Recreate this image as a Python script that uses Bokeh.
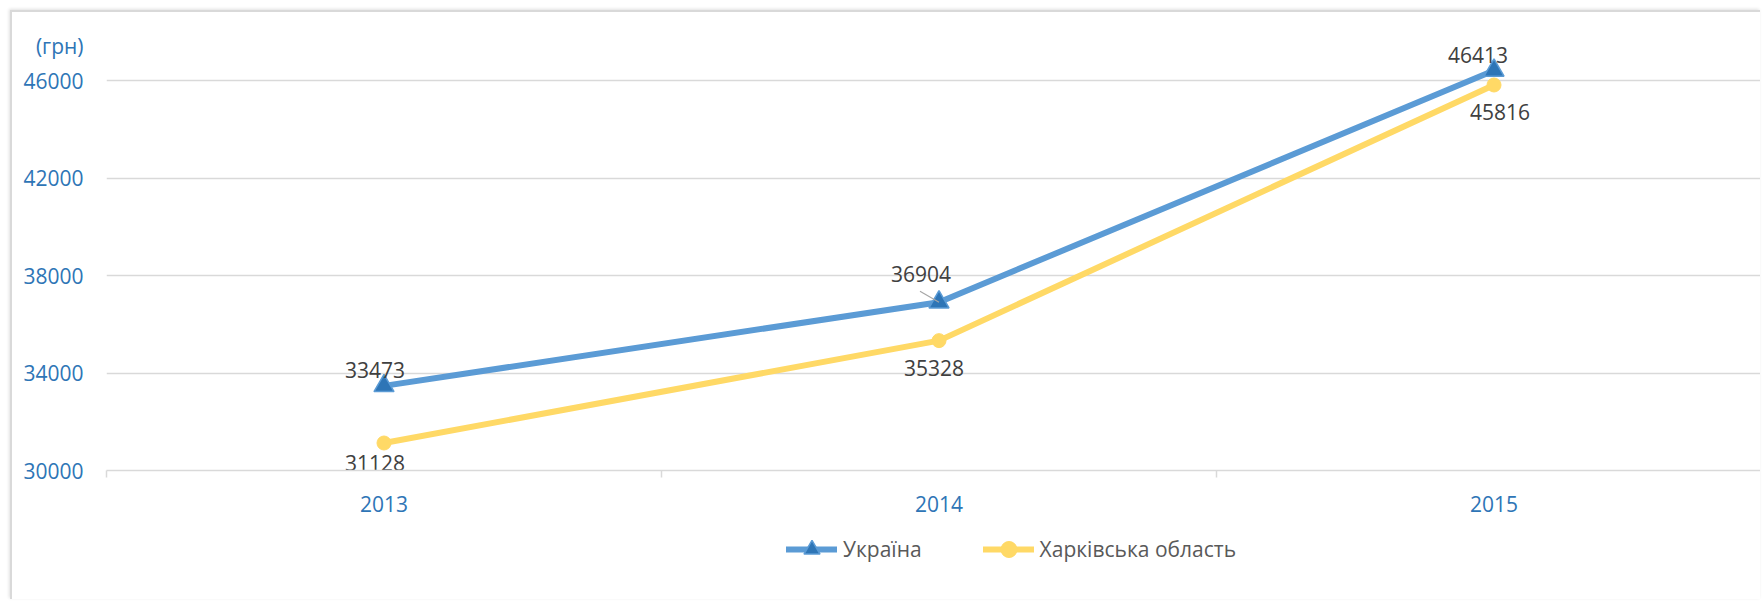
from bokeh.plotting import figure
from bokeh.layouts import column
from bokeh.models import FixedTicker, Legend, LegendItem, Range1d, ColumnDataSource
from bokeh.core.properties import value
from bokeh.embed import file_html
from bokeh.resources import INLINE

# ---- data ----
years = ["2013", "2014", "2015"]
ukraine = [33473, 36904, 46413]
kharkiv = [31128, 35328, 45816]
y_ticks = [30000, 34000, 38000, 42000, 46000]
unit_label = "(грн)"
series_names = ["Україна", "Харківська область"]

# ---- layout constants ----
W = 1748
H_MAIN, H_LEG = 508, 79
ML, MT, MB, MR = 94, 18, 50, 0
frame_w = W - ML - MR
frame_h = H_MAIN - MT - MB
cat_px = 555.0
x_end = frame_w / cat_px
y_start = 30000
px_per_4000 = 97.5
y_per_px = 4000 / px_per_4000
y_end = y_start + frame_h * y_per_px
unit_tick = y_end - 15 * y_per_px      # unit caption sits 15px below frame top

FONT = "Open Sans"
BLUE_TXT = "#2e75b6"
GRID = "#d9d9d9"
C_UKR, C_UKR_MARK, C_KHA = "#5b9bd5", "#2e75b6", "#ffd966"

xs = [i + 0.5 for i in range(len(years))]

p = figure(width=W, height=H_MAIN, output_backend="svg", toolbar_location=None,
           x_range=Range1d(0, x_end), y_range=Range1d(y_start, y_end),
           min_border_left=ML, min_border_top=MT, min_border_bottom=MB, min_border_right=MR,
           background_fill_color="white", border_fill_color="white")
p.outline_line_color = None

# y axis (unit caption shown as the top label)
p.yaxis.ticker = FixedTicker(ticks=y_ticks + [unit_tick], minor_ticks=[])
p.yaxis.major_label_overrides = {unit_tick: unit_label}
p.yaxis.axis_line_color = None
p.yaxis.major_tick_line_color = None
p.yaxis.major_tick_out = 0
p.yaxis.major_tick_in = 0
p.yaxis.minor_tick_line_color = None
p.yaxis.major_label_text_font = FONT
p.yaxis.major_label_text_font_size = "21px"
p.yaxis.major_label_text_color = BLUE_TXT
p.yaxis.major_label_standoff = 23
p.ygrid.ticker = FixedTicker(ticks=y_ticks)
p.ygrid.grid_line_color = GRID
p.ygrid.grid_line_width = 1.5
p.xgrid.grid_line_color = None

# x axis
p.xaxis.ticker = FixedTicker(ticks=xs, minor_ticks=list(range(len(years) + 1)))
p.xaxis.major_label_overrides = {x: y for x, y in zip(xs, years)}
p.xaxis.axis_line_color = GRID
p.xaxis.axis_line_width = 1.5
p.xaxis.major_tick_line_color = None
p.xaxis.major_tick_out = 0
p.xaxis.major_tick_in = 0
p.xaxis.minor_tick_line_color = GRID
p.xaxis.minor_tick_line_width = 1.5
p.xaxis.minor_tick_out = 7
p.xaxis.minor_tick_in = 0
p.xaxis.major_label_text_font = FONT
p.xaxis.major_label_text_font_size = "21px"
p.xaxis.major_label_text_color = BLUE_TXT
p.xaxis.major_label_standoff = 18


def draw_series(fig):
    l1 = fig.line(xs, ukraine, line_color=C_UKR, line_width=6, line_join="round", line_cap="round")
    s1 = fig.scatter(xs, ukraine, marker="triangle", size=20, fill_color=C_UKR_MARK,
                     line_color=C_UKR, line_width=1.5)
    l2 = fig.line(xs, kharkiv, line_color=C_KHA, line_width=6, line_join="round", line_cap="round")
    s2 = fig.scatter(xs, kharkiv, marker="circle", size=14, fill_color=C_KHA, line_color=C_KHA)
    return (l1, s1), (l2, s2)


draw_series(p)

# data labels
u_dx = [-9, -18, -16]
u_dy = [-16, -28, -15]
k_dx = [-9, -5, 6]
k_dy = [20, 27, 27]
src_u = ColumnDataSource(dict(x=xs, y=ukraine, t=[str(v) for v in ukraine], dx=u_dx, dy=u_dy))
src_k = ColumnDataSource(dict(x=xs, y=kharkiv, t=[str(v) for v in kharkiv], dx=k_dx, dy=k_dy))
for src in (src_u, src_k):
    p.text(x="x", y="y", text="t", x_offset="dx", y_offset="dy", source=src,
           text_align="center", text_baseline="middle",
           text_font=value(FONT), text_font_size="21px", text_color="#404040")

# leader line for the 2014 Ukraine label
x_per_px = 1.0 / cat_px
p.segment(x0=[xs[1] - 19 * x_per_px], y0=[ukraine[1] + 11 * y_per_px],
          x1=[xs[1]], y1=[ukraine[1]], line_color="#a6a6a6", line_width=1.2)

# ---- legend strip (its own figure so the legend is not clipped) ----
lg = figure(width=W, height=H_LEG, output_backend="svg", toolbar_location=None,
            x_range=Range1d(0, 1), y_range=Range1d(0, 1),
            x_axis_type=None, y_axis_type=None,
            min_border_left=0, min_border_right=0, min_border_top=0, min_border_bottom=0,
            background_fill_color="white", border_fill_color="white")
lg.outline_line_color = None
lg.grid.visible = False
r_ukr, r_kha = draw_series(lg)   # data lies outside this strip's ranges; used for legend glyphs

legend = Legend(items=[LegendItem(label=series_names[0], renderers=list(r_ukr)),
                       LegendItem(label=series_names[1], renderers=list(r_kha))],
                location=(680, 30), orientation="horizontal",
                border_line_color=None, background_fill_alpha=0,
                glyph_width=51, glyph_height=40, label_standoff=6, spacing=61,
                padding=0, margin=0,
                label_text_font=FONT, label_text_font_size="21px",
                label_text_color="#595959")
lg.add_layout(legend, "center")

page = column(p, lg, spacing=0)
page.styles = {"margin-left": "10px", "margin-top": "10px",
               "border-left": "2px solid #d9d9d9", "border-top": "2px solid #d9d9d9",
               "box-shadow": "-1px -1px 3px rgba(0,0,0,0.12)"}

open("out.html", "w").write(file_html(page, INLINE))
